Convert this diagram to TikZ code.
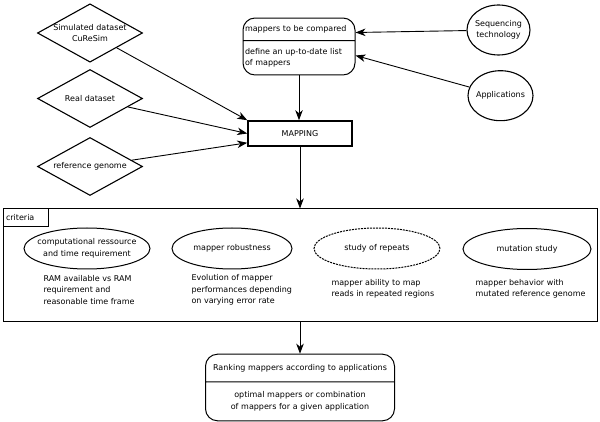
\documentclass[tikz,border=0pt]{standalone}
\usepackage{fontspec}
\setmainfont{DejaVu Sans}
\usepackage{tikz}
\usetikzlibrary{arrows.meta,shapes.geometric,shapes.multipart}

\tikzset{
  flow/.style={-{Stealth[length=10pt,width=7.5pt,inset=3pt]}, line width=0.9pt},
  datanode/.style={draw, diamond, aspect=1.8, inner sep=0pt, line width=1.1pt,
    minimum width=105pt, minimum height=58pt, align=center},
  sourcenode/.style={draw, ellipse, inner sep=0pt, inner xsep=-3pt, line width=1.1pt,
    minimum width=64pt, minimum height=50pt, align=center},
  critnode/.style={draw, ellipse, inner sep=0pt, inner xsep=-14pt, line width=1pt,
    minimum width=126pt, minimum height=41pt, align=center},
  splitbox/.style={draw, rectangle split, rectangle split parts=2, rounded corners=12pt,
    line width=1pt, inner xsep=2pt},
  desc/.style={anchor=west, align=left},
}

\begin{document}
\begin{tikzpicture}[x=1pt, y=-1pt, font=\fontsize{8}{11.5}\selectfont]
  \useasboundingbox (0,0) rectangle (600,422);

  % inputs
  \node[datanode] (sim) at (90,33) {Simulated dataset\\CuReSim};
  \node[datanode] (real) at (90,98.5) {Real dataset};
  \node[datanode] (refgen) at (90,166.5) {reference genome};

  \node[splitbox, text width=108pt, align=left, inner ysep=7pt] (mappers) at (299,46.5)
    {mappers to be compared \nodepart{second} define an up-to-date list\\of mappers};
  \node[sourcenode, minimum width=63pt] (seq) at (498.5,30) {Sequencing\\technology};
  \node[sourcenode, minimum width=65pt] (apps) at (500.5,95.7) {Applications};

  \node[draw, line width=1.6pt, minimum width=104pt, minimum height=25pt] (mapping) at (300,133.5) {MAPPING};

  \draw[flow] (sim) -- (mapping.north west);
  \draw[flow] (real) -- (mapping.west);
  \draw[flow] (refgen) -- (mapping.190);
  \draw[flow] (seq) -- ([yshift=14pt]mappers.east);
  \draw[flow] (apps) -- ([yshift=-9pt]mappers.east);
  \draw[flow] (mappers.south) -- (mappers.south |- mapping.north);

  % criteria
  \node[draw, line width=1pt, minimum width=594pt, minimum height=112pt] (criteria) at (300,265) {};
  \node[draw, line width=1pt, anchor=north west, minimum width=45pt, minimum height=18pt,
    text width=39pt, inner xsep=3pt, align=left] (critlabel) at (criteria.north west) {criteria};

  \node[critnode] (compute) at (87,248.5) {computational ressource\\and time requirement};
  \node[critnode, minimum width=120pt] (robust) at (232,248.5) {mapper robustness};
  \node[critnode, dash pattern=on 2pt off 1pt] (repeats) at (377,248.5) {study of repeats};
  \node[critnode, minimum width=128pt] (mutation) at (527,249) {mutation study};

  \node[desc] (computetxt) at (40,290) {RAM available vs RAM\\requirement and\\reasonable time frame};
  \node[desc] (robusttxt) at (188,290) {Evolution of mapper\\performances depending\\on varying error rate};
  \node[desc] (repeatstxt) at (328,289) {mapper ability to map\\reads in repeated regions};
  \node[desc] (mutationtxt) at (472,289) {mapper behavior with\\mutated reference genome};

  \draw[flow] (mapping.south) -- (criteria.north);

  % ranking
  \node[splitbox, text width=185pt, align=center, inner ysep=9.4pt] (ranking) at (300,387.5)
    {Ranking mappers according to applications \nodepart{second} optimal mappers or combination\\of mappers for a given application};
  \draw[flow] (criteria.south) -- (ranking.north);
\end{tikzpicture}
\end{document}
